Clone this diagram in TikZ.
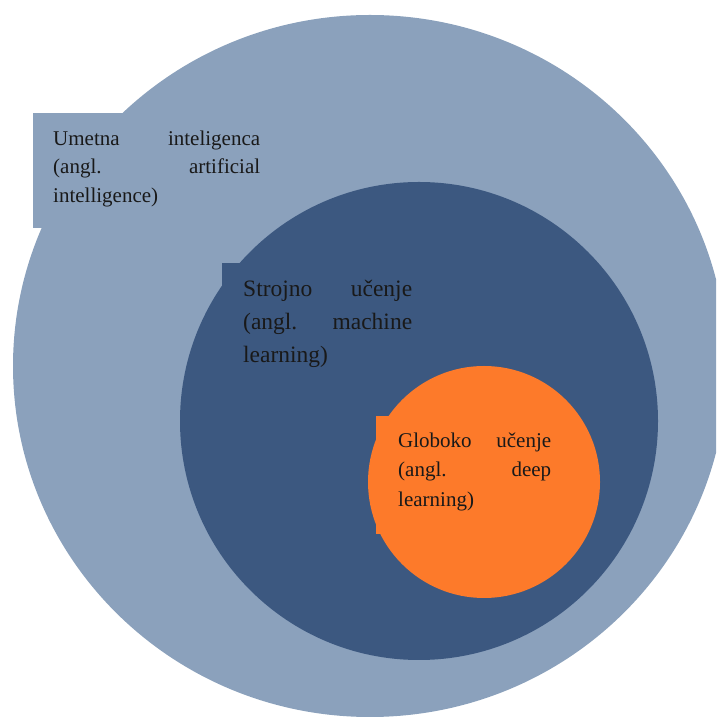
\documentclass[tikz,border=0pt]{standalone}
\usepackage{fontspec}
\setmainfont{Liberation Serif}
\usepackage{tikz}
\usetikzlibrary{shapes}
\definecolor{aiblue}{RGB}{139,161,188}
\definecolor{mlblue}{RGB}{60,88,128}
\definecolor{dlorange}{RGB}{253,122,42}
\tikzstyle{field} = [circle, inner sep=0pt]
\tikzstyle{areatext} = [rectangle, anchor=north west, align=left, text=black!90, 
    text height=14.3pt, font=\fontsize{21}{28.5}\selectfont]

\begin{document}
\begin{tikzpicture}[x=1pt, y=1pt]
    \useasboundingbox (0,0) rectangle (716,720);
    \clip (0,0) rectangle (716,720);

    % Place circles, each one with its label box
    \node [ellipse, fill=aiblue, inner sep=0pt, minimum width=714, minimum height=702] (ai) at (370,354) {};
    \node [areatext, fill=aiblue, text width=207pt, inner xsep=20pt, inner ysep=17.7pt, text depth=65.3pt] (ailabel) at (33,607)
        {Umetna\hfill inteligenca\\(angl.\hfill artificial\\intelligence)};

    \node [field, fill=mlblue, minimum size=478] (ml) at (419,299) {};
    \node [areatext, fill=mlblue, text width=169pt, inner xsep=21pt, inner ysep=17pt, 
        text height=16pt, text depth=60pt, font=\fontsize{23.5}{33}\selectfont] (mllabel) at (222,457)
        {Strojno\hfill u\v{c}enje\\(angl.\hfill machine\\learning)};

    \node [field, fill=dlorange, minimum size=232] (dl) at (484,238) {};
    \node [areatext, fill=dlorange, text width=153pt, inner xsep=22pt, inner ysep=16.7pt, 
        text depth=70.3pt, font=\fontsize{21}{29.5}\selectfont] (dllabel) at (376,304)
        {Globoko\hfill u\v{c}enje\\(angl.\hfill deep\\learning)};

\end{tikzpicture}
\end{document}
